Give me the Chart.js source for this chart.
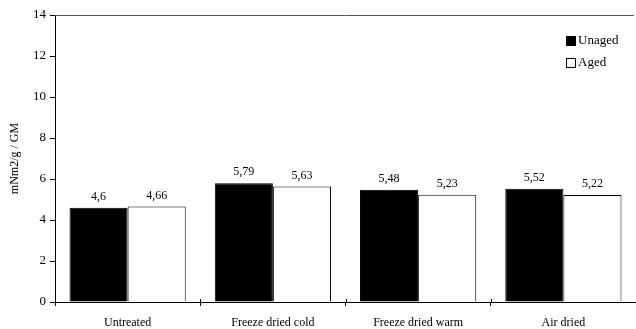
<!DOCTYPE html>
<html>
<head>
<meta charset="utf-8">
<script src="https://cdn.jsdelivr.net/npm/chart.js@4.4.1/dist/chart.umd.min.js"></script>
<style>
  html, body { margin: 0; padding: 0; background: #fff; }
  #wrap { width: 636px; height: 329px; }
</style>
</head>
<body>
<div id="wrap"><canvas id="chart"></canvas></div>
<script>
// chart data
const categories = ['Untreated', 'Freeze dried cold', 'Freeze dried warm', 'Air dried'];
const unaged = [4.6, 5.79, 5.48, 5.52];
const aged = [4.66, 5.63, 5.23, 5.22];
const yTicks = [0, 2, 4, 6, 8, 10, 12, 14];

const serif = '"Liberation Serif", "Times New Roman", serif';

// value labels with comma decimals
const valueLabels = {
    id: 'valueLabels',
    afterDatasetsDraw(chart) {
        const ctx = chart.ctx;
        ctx.save();
        ctx.font = '12px ' + serif;
        ctx.fillStyle = '#000';
        ctx.textAlign = 'center';
        ctx.textBaseline = 'bottom';
        chart.data.datasets.forEach((ds, i) => {
            chart.getDatasetMeta(i).data.forEach((bar, j) => {
                ctx.fillText(String(ds.data[j]).replace('.', ','), bar.x, bar.y - 5);
            });
        });
        ctx.restore();
    }
};

// top frame line, crossing ticks on x axis, legend in the corner
const frameAndLegend = {
    id: 'frameAndLegend',
    afterDraw(chart) {
        const ctx = chart.ctx;
        const a = chart.chartArea;
        ctx.save();
        ctx.strokeStyle = '#555';
        ctx.lineWidth = 1;
        ctx.beginPath();
        ctx.moveTo(a.left, a.top + 0.5);
        ctx.lineTo(a.right - 2, a.top + 0.5);
        ctx.stroke();

        // category separators cross the axis a little
        const xs = chart.scales.x;
        ctx.strokeStyle = '#000';
        ctx.beginPath();
        for (let i = 1; i < categories.length; i++) {
            const x = Math.round((xs.getPixelForTick(i - 1) + xs.getPixelForTick(i)) / 2) + 0.5;
            ctx.moveTo(x, a.bottom - 3);
            ctx.lineTo(x, a.bottom);
        }
        ctx.stroke();

        ctx.font = '13px ' + serif;
        ctx.textBaseline = 'middle';
        chart.data.datasets.forEach((ds, i) => {
            const y = 41 + i * 22;
            ctx.fillStyle = ds.backgroundColor;
            ctx.fillRect(566, y - 5, 10, 10);
            ctx.strokeStyle = '#000';
            ctx.strokeRect(566.5, y - 4.5, 9, 9);
            ctx.fillStyle = '#000';
            ctx.fillText(ds.label, 578, y);
        });
        ctx.restore();
    }
};

new Chart(document.getElementById('chart'), {
    type: 'bar',
    data: {
        labels: categories,
        datasets: [
            { label: 'Unaged', data: unaged, backgroundColor: '#000', borderColor: '#000', borderWidth: 1 },
            { label: 'Aged', data: aged, backgroundColor: '#fff', borderColor: '#000', borderWidth: 1 }
        ]
    },
    options: {
        responsive: true,
        maintainAspectRatio: false,
        animation: false,
        layout: { padding: { top: 15, right: 0, left: 0, bottom: 0 } },
        categoryPercentage: 0.8,
        barPercentage: 1.0,
        plugins: {
            legend: { display: false },
            tooltip: { enabled: false }
        },
        scales: {
            x: {
                grid: { display: true, drawOnChartArea: false, offset: true, color: '#000', tickLength: 4 },
                border: { color: '#000' },
                ticks: { color: '#000', font: { family: serif, size: 12 }, padding: 10, maxRotation: 0 },
                afterFit(scale) { scale.height = 27; }
            },
            y: {
                min: 0,
                max: 14,
                afterBuildTicks(scale) { scale.ticks = yTicks.map(v => ({ value: v })); },
                grid: { drawOnChartArea: false, color: '#000', tickLength: 5 },
                border: { color: '#000' },
                ticks: { color: '#000', font: { family: serif, size: 13 }, padding: 4 },
                title: { display: true, text: 'mNm2/g / GM', color: '#000', font: { family: serif, size: 12 }, padding: { top: 8, bottom: 0 } },
                afterFit(scale) { scale.width = 55; }
            }
        }
    },
    plugins: [valueLabels, frameAndLegend]
});
</script>
</body>
</html>
